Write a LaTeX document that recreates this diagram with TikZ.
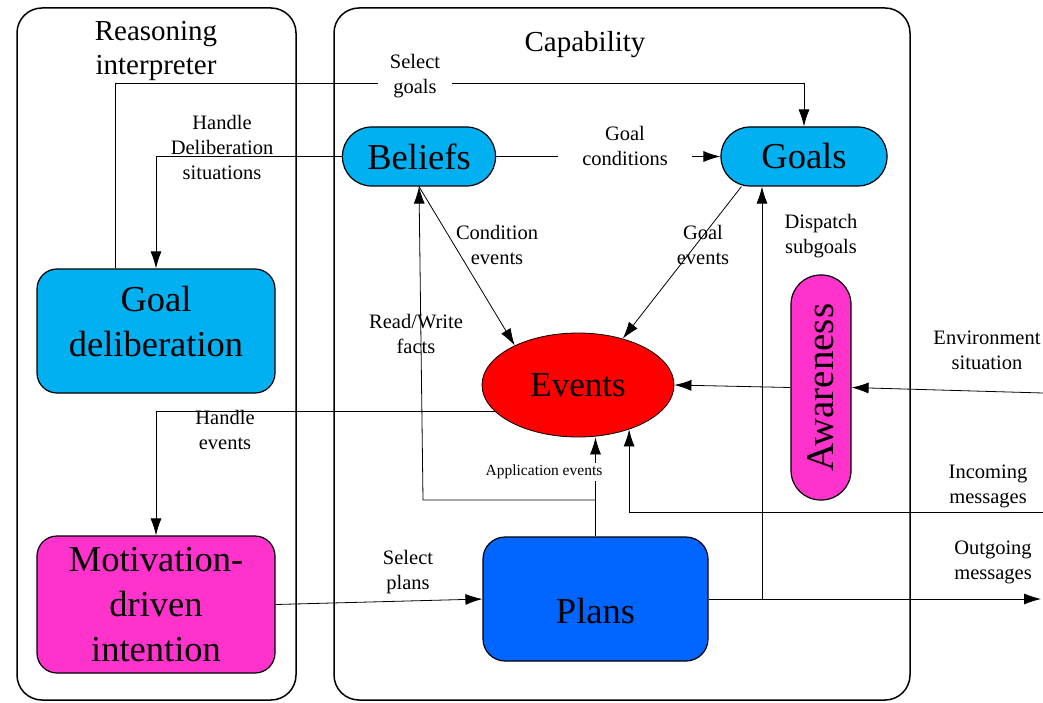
\documentclass[tikz,border=0pt]{standalone}
\usepackage{fontspec}
\setmainfont{Liberation Serif}
\usepackage{tikz}
\usetikzlibrary{arrows.meta,shapes.geometric}
\tikzset{conn/.style={line width=0.8pt,-{Latex[length=17pt,width=11pt]}}}
\tikzset{box/.style={draw,line width=1.2pt,align=center,inner sep=0pt,font=\fontsize{36.5}{45}\selectfont}}
\tikzset{lbl/.style={align=center,inner sep=2pt,font=\fontsize{20.5}{25}\selectfont}}
\tikzset{frametitle/.style={align=center,font=\fontsize{29}{34}\selectfont}}
\tikzset{frame/.style={line width=1.5pt,rounded corners=25pt}}
\definecolor{skyblue}{RGB}{0,176,240}
\definecolor{planblue}{RGB}{0,102,255}
\definecolor{motivpink}{RGB}{255,51,204}

\begin{document}
\begin{tikzpicture}[x=1pt,y=-1pt]
        \useasboundingbox (0,0) rectangle (1043,703);
        % Draw the two frames
        \draw[frame] (17,8) rectangle (296,700);
        \draw[frame] (334,8) rectangle (910,700);
        \node[frametitle] (reasoning) at (156,51) {Reasoning\\interpreter};
        \node[frametitle] (capability) at (585,45) {Capability};
        % Boxes
        \node[box,fill=skyblue,rounded corners=29pt,minimum width=153pt,
        minimum height=59pt] (beliefs) at (419,156.5) {Beliefs};
        \node[box,fill=skyblue,rounded corners=29pt,minimum width=166pt,
        minimum height=59pt] (goals) at (804,156.5) {Goals};
        \node[box,fill=skyblue,rounded corners=20pt,minimum width=238pt,
        minimum height=124pt,text height=50pt,text depth=0pt] (goaldelib) at (156,331) {Goal\\deliberation};
        \node[box,fill=motivpink,rounded corners=20pt,minimum width=238pt,
        minimum height=137pt] (motiv) at (156,604.5) {Motivation-\\driven\\intention};
        \node[box,fill=planblue,rounded corners=22pt,minimum width=225pt,
        minimum height=124pt,text height=48pt,text depth=0pt] (plans) at (595.5,599) {Plans};
        \node[box,ellipse,fill=red,line width=0.8pt,minimum width=192pt,
        minimum height=104pt,font=\fontsize{35}{44}\selectfont] (events) at (578,385) {Events};
        \node[box,fill=motivpink,rounded corners=29.5pt,minimum width=60pt,
        minimum height=225pt,font=\fontsize{39}{44}\selectfont] (aware) at (821,387.5) {\rotatebox{90}{Awareness}};
        % Free ends
        \coordinate (sg) at (115,83);
        \coordinate (rw) at (423,500);
        \coordinate (disp) at (762,0);
        \coordinate (env) at (1043,393);
        \coordinate (inmsg) at (1043,512);
        \coordinate (outmsg) at (1041,599);
        % Select goals
        \draw[conn] (goaldelib.north -| sg) -- (sg) -| (goals.north);
        \node[lbl,fill=white,inner xsep=12pt] (selgoals) at (415,76) {Select\\goals};
        % Handle deliberation situations
        \draw[conn] (beliefs.west) -| (goaldelib.north);
        \node[lbl] (handledelib) at (222,147) {Handle\\Deliberation\\situations};
        % Goal conditions
        \draw[conn] (beliefs.east) -- (goals.west);
        \node[lbl,fill=white,minimum width=134pt] (goalcond) at (625,146) {Goal\\conditions};
        % Condition events and goal events
        \draw[conn] (beliefs.south) -- (events.148);
        \node[lbl] (condev) at (497,245) {Condition\\events};
        \draw[conn] ([xshift=21pt]goals.south west) -- (events.46);
        \node[lbl] (goalev) at (703,245) {Goal\\events};
        % Read/Write facts and application events
        \draw[conn] (plans.north) -- (events.south -| plans.north);
        \draw[conn] (plans.north |- rw) -- (rw) -- (beliefs.south);
        \node[lbl] (rwfacts) at (416,334) {Read/Write\\facts};
        \node[lbl,fill=white,font=\fontsize{15.5}{18}\selectfont] (appev) at (544,472) {Application events};
        % Dispatch subgoals
        \draw[conn] (plans.east) -| (goals.south -| disp);
        \node[lbl] (dispatch) at (821,236) {Dispatch\\subgoals};
        % Awareness
        \draw[conn] (aware.west) -- (events.east);
        \draw[conn] (env) -- (aware.east);
        \node[lbl] (envsit) at (987,350) {Environment\\situation};
        % Messages
        \draw[conn] (inmsg) -| (events.319);
        \node[lbl] (incoming) at (988,486) {Incoming\\messages};
        \draw[conn] (plans.east) -- (outmsg);
        \node[lbl] (outgoing) at (993,562) {Outgoing\\messages};
        % Handle events and select plans
        \draw[conn] (events.198) -| (motiv.north);
        \node[lbl] (handleev) at (225,430) {Handle\\events};
        \draw[conn] (motiv.east) -- (plans.west);
        \node[lbl] (selplans) at (408,572) {Select\\plans};
\end{tikzpicture}
\end{document}
